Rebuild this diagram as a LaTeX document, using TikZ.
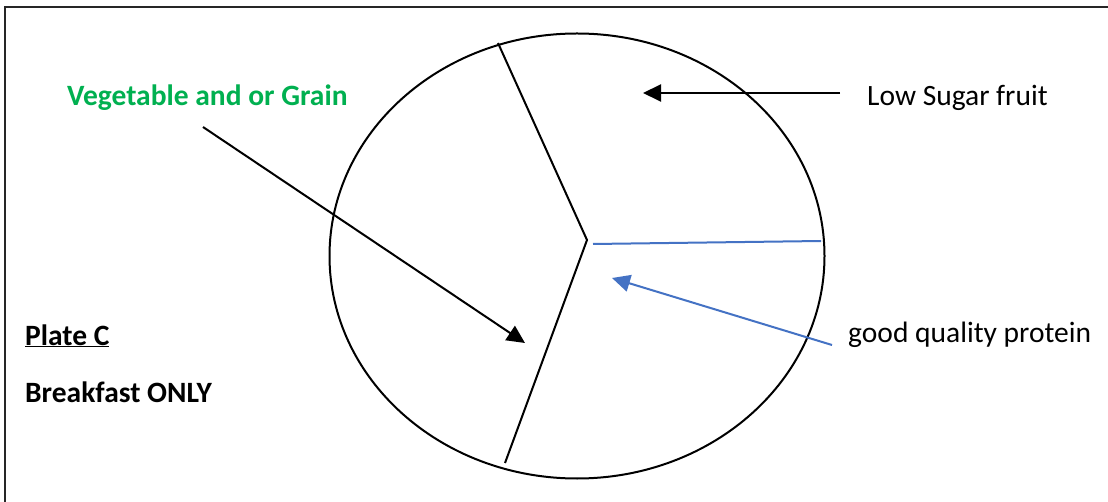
\documentclass[tikz,border=0pt]{standalone}
\usepackage{fontspec}
\setmainfont{Carlito}
\usetikzlibrary{shapes.geometric,arrows.meta}
\definecolor{wgreen}{RGB}{0,176,80}
\definecolor{wblue}{RGB}{68,114,196}
\begin{document}
\begin{tikzpicture}[x=1pt,y=-1pt,
  lbl/.style={inner sep=0pt,anchor=base west,font=\fontsize{29.5}{34}\selectfont},
  bline/.style={line width=2pt,black},
  arr/.style={line width=2pt,-{Triangle[length=18pt,width=17pt]}},
]
\useasboundingbox (0,0) rectangle (1108,502);
\fill[white] (0,0) rectangle (1108,502);
\draw[line width=2.2pt,black!85] (5,502) -- (5,7) -- (1108,7);
\node[draw,ellipse,line width=2pt,inner sep=0pt,minimum width=495pt,minimum height=445pt] (plate) at (577,256) {};
\coordinate (c) at (587,240);
\coordinate (top) at (498,43);
\coordinate (bot) at (505,463);
\coordinate (bs) at (593,244);
\coordinate (be) at (821,241);
\draw[bline] (top) -- (c) -- (bot);
\draw[line width=2pt,wblue] (bs) -- (be);
\node[lbl,text=wgreen,font=\fontsize{29.5}{34}\selectfont\bfseries] (veg) at (67,106) {Vegetable and or Grain};
\node[lbl] (fruit) at (867,106) {Low Sugar fruit};
\node[lbl] (prot) at (848,343) {good quality protein};
\node[lbl,font=\fontsize{29.5}{34}\selectfont\bfseries] (platec) at (25,345) {\underline{Plate C}};
\node[lbl,font=\fontsize{29.5}{34}\selectfont\bfseries] (bfast) at (25,402) {Breakfast ONLY};
\coordinate (a1s) at (840,93);
\coordinate (a1e) at (643,93);
\coordinate (a2s) at (203,127);
\coordinate (a2e) at (525,343);
\coordinate (a3s) at (832,345);
\coordinate (a3e) at (612,278);
\draw[arr] (a1s) -- (a1e);
\draw[arr] (a2s) -- (a2e);
\draw[arr,wblue] (a3s) -- (a3e);
\end{tikzpicture}
\end{document}
